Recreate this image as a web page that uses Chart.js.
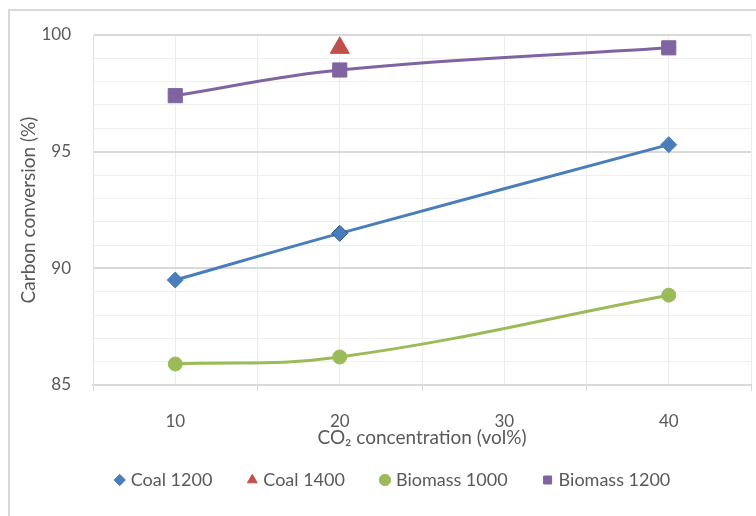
<!DOCTYPE html>
<html>
<head>
<meta charset="utf-8">
<script src="https://cdn.jsdelivr.net/npm/chart.js@4"></script>
<style>
  html, body { margin: 0; padding: 0; background: #fff; }
  #wrap { position: relative; width: 756px; height: 516px; overflow: hidden; }
  #frame { position: absolute; left: 8px; top: 9px; width: 900px; height: 700px; border-left: 2px solid #d9d9d9; border-top: 2px solid #d9d9d9; }
  #grafico { position: absolute; left: 0; top: 0; }
</style>
</head>
<body>
<div id="wrap">
  <div id="frame"></div>
  <canvas id="grafico" width="788" height="516"></canvas>
</div>
<script>
// CO2 concentration (vol%)
var co2 = [10, 20, 40];
var coal1200 = [89.5, 91.5, 95.3];
var coal1400x = [20];
var coal1400 = [99.45];
var biomass1000 = [85.9, 86.2, 88.85];
var biomass1200 = [97.4, 98.5, 99.45];

function pts(xs, ys) {
	return xs.map(function (x, i) { return {x: x, y: ys[i]}; });
}

var txt = '#595959';
var fam = 'Lato, "Open Sans", sans-serif';

var canvas = document.getElementById('grafico');

var grafico = new Chart(canvas, {
	type: 'scatter',
	data: {
		datasets: [{
			label: 'Coal 1200',
			data: pts(co2, coal1200),
			showLine: true,
			tension: 0.4,
			borderColor: '#4a7ebb',
			borderWidth: 3,
			pointStyle: 'rectRot',
			pointRadius: 8,
			pointBackgroundColor: '#4a7ebb',
			pointBorderColor: ['#4a7ebb', '#2c4d75', '#4a7ebb'],
			pointBorderWidth: 1
		}, {
			label: 'Coal 1400',
			data: pts(coal1400x, coal1400),
			showLine: false,
			pointStyle: 'triangle',
			pointRadius: 11,
			pointBackgroundColor: '#c0504d',
			pointBorderColor: '#c0504d',
			pointBorderWidth: 1
		}, {
			label: 'Biomass 1000',
			data: pts(co2, biomass1000),
			showLine: true,
			tension: 0.4,
			borderColor: '#9bbb59',
			borderWidth: 3,
			pointStyle: 'circle',
			pointRadius: 7,
			pointBackgroundColor: '#9bbb59',
			pointBorderColor: '#9bbb59',
			pointBorderWidth: 1
		}, {
			label: 'Biomass 1200',
			data: pts(co2, biomass1200),
			showLine: true,
			tension: 0.4,
			borderColor: '#8064a2',
			borderWidth: 3,
			pointStyle: 'rect',
			pointRadius: 10,
			pointBackgroundColor: '#8064a2',
			pointBorderColor: '#8064a2',
			pointBorderWidth: 1
		}]
	},
	options: {
		responsive: false,
		animation: false,
		layout: {
			padding: {left: 0, top: 35, right: 0, bottom: 17}
		},
		plugins: {
			tooltip: {enabled: false},
			legend: {
				position: 'bottom',
				labels: {
					usePointStyle: true,
					boxWidth: 4,
					boxHeight: 8,
					padding: 38,
					color: txt,
					font: {family: fam, size: 18}
				}
			}
		},
		scales: {
			x: {
				type: 'linear',
				min: 5,
				max: 45,
				afterFit: function (s) { s.height = 48; },
				ticks: {
					stepSize: 5,
					autoSkip: false,
					maxRotation: 0,
					padding: 20,
					color: txt,
					font: {family: fam, size: 17},
					callback: function (v) { return v % 10 === 0 ? v : ''; }
				},
				grid: {
					color: '#ececec',
					tickLength: 6,
					tickColor: function (c) {
						return c.tick && c.tick.value % 10 === 0 ? 'rgba(0,0,0,0)' : '#d9d9d9';
					}
				},
				border: {color: '#d9d9d9', width: 2},
				title: {
					display: true,
					text: 'CO\u2082 concentration (vol%)',
					color: txt,
					padding: {top: 0, bottom: -16},
					font: {family: fam, size: 19}
				}
			},
			y: {
				min: 85,
				max: 100,
				afterFit: function (s) { s.width = 93; },
				ticks: {
					stepSize: 1,
					autoSkip: false,
					padding: 22,
					color: txt,
					font: {family: fam, size: 17},
					callback: function (v) { return v % 5 === 0 ? v : ''; }
				},
				grid: {
					drawTicks: false,
					color: function (c) {
						return c.tick && c.tick.value % 5 === 0 ? '#d9d9d9' : '#efefef';
					},
					lineWidth: function (c) {
						return c.tick && c.tick.value % 5 === 0 ? 2 : 1;
					}
				},
				border: {color: '#e3e3e3'},
				title: {
					display: true,
					text: 'Carbon conversion (%)',
					color: txt,
					padding: {top: 17, bottom: 0},
					font: {family: fam, size: 19}
				}
			},
			pad: {
				type: 'linear',
				position: 'right',
				display: true,
				afterFit: function (s) { s.width = 37; },
				grid: {display: false},
				ticks: {display: false},
				border: {display: false}
			}
		}
	}
});
</script>
</body>
</html>
